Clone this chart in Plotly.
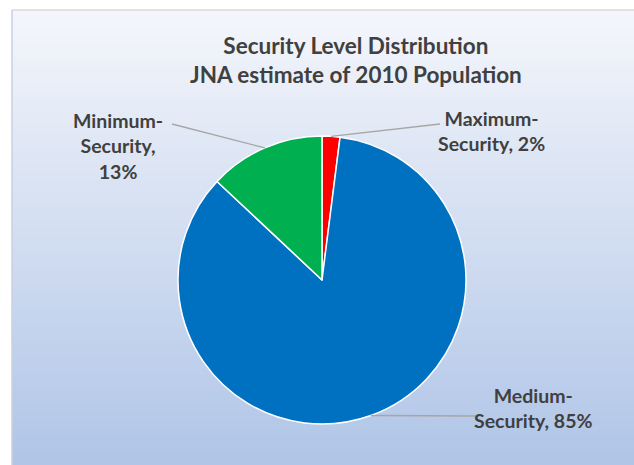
import math
import plotly.graph_objects as go

labels = ["Maximum-Security", "Medium-Security", "Minimum-Security"]
values = [2, 85, 13]
colors = ["#ff0000", "#0070c0", "#00b050"]
label_text = ["Maximum-<br>Security, 2%", "Medium-<br>Security, 85%", "Minimum-<br>Security,<br>13%"]

W, H = 634, 465
cx, cy, r = 322, 280, 144  # pie center/radius in px (layout)

fig = go.Figure()

# gradient background panel via stripes
n = 80
top_c = (244, 246, 251)
bot_c = (176, 197, 231)
py0, py1 = 0.0, (H - 10) / H
for i in range(n):
    t = i / (n - 1)
    col = tuple(int(round(top_c[k] + (bot_c[k] - top_c[k]) * t)) for k in range(3))
    y_hi = py1 - (py1 - py0) * i / n
    y_lo = py1 - (py1 - py0) * (i + 1) / n
    fig.add_shape(type="rect", xref="paper", yref="paper", x0=12 / W, x1=1.0,
                  y0=y_lo - 0.001, y1=y_hi + (0 if i == 0 else 0.001),
                  fillcolor="rgb(%d,%d,%d)" % col, line_width=0, layer="below")
fig.add_shape(type="line", xref="paper", yref="paper", x0=12 / W, x1=1, y0=py1, y1=py1,
              line=dict(color="#d9d9d9", width=1.5), layer="below")
fig.add_shape(type="line", xref="paper", yref="paper", x0=12 / W, x1=12 / W, y0=0, y1=py1,
              line=dict(color="#c8d0e0", width=1.5), layer="below")

fig.add_trace(go.Pie(
    labels=labels, values=values, sort=False, direction="clockwise", rotation=0,
    marker=dict(colors=colors, line=dict(color="white", width=1.5)),
    textinfo="none", hoverinfo="label+percent", showlegend=False,
    domain=dict(x=[(cx - r) / W, (cx + r) / W], y=[(H - cy - r) / H, (H - cy + r) / H]),
))

# label positions (text centers, px) and leader line text-side anchors (px)
text_pos = [(491, 131), (533, 408), (118, 146)]
line_start = [(440, 124), (477, 416), (172, 124)]

total = sum(values)
cum = 0
for i, v in enumerate(values):
    mid = (cum + v / 2) / total * 2 * math.pi
    cum += v
    ex = cx + r * math.sin(mid)
    ey = cy - r * math.cos(mid)
    sx, sy = line_start[i]
    fig.add_shape(type="line", xref="paper", yref="paper",
                  x0=sx / W, y0=1 - sy / H, x1=ex / W, y1=1 - ey / H,
                  line=dict(color="#a6a6a6", width=1.3))
    tx, ty = text_pos[i]
    fig.add_annotation(x=tx / W, y=1 - ty / H, xref="paper", yref="paper",
                       text="<b>%s</b>" % label_text[i], showarrow=False,
                       font=dict(family="Lato", size=19.5, color="#404040"),
                       align="center", xanchor="center", yanchor="middle")

fig.add_annotation(x=356 / W, y=1 - 60 / H, xref="paper", yref="paper",
                   text="<b>Security Level Distribution<br>JNA estimate of 2010 Population</b>",
                   showarrow=False, align="center", xanchor="center", yanchor="middle",
                   font=dict(family="Lato", size=22.5, color="#404040"))

fig.update_layout(width=W, height=H, margin=dict(l=0, r=0, t=0, b=0),
                  paper_bgcolor="white", plot_bgcolor="white")
fig.write_html("out.html")
